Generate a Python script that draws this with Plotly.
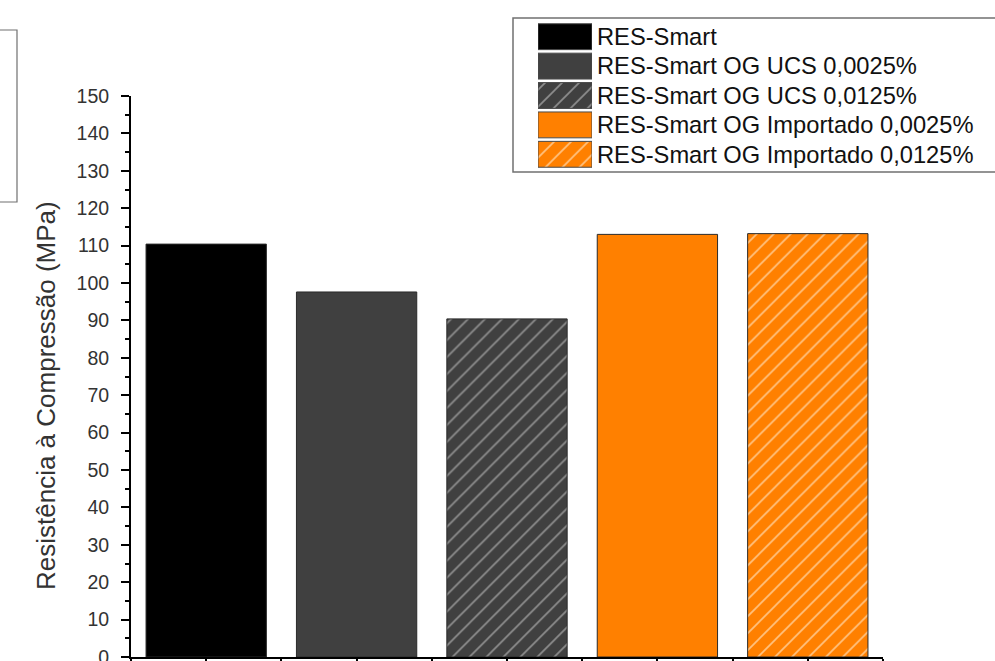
import plotly.graph_objects as go

# Compressive strength per mix
labels = [
    "RES-Smart",
    "RES-Smart OG UCS 0,0025%",
    "RES-Smart OG UCS 0,0125%",
    "RES-Smart OG Importado 0,0025%",
    "RES-Smart OG Importado 0,0125%",
]
strength_mpa = [110.4, 97.6, 90.4, 113.0, 113.2]

fill_colors = ["#000000", "#404040", "#404040", "#FF8000", "#FF8000"]
hatch_shapes = ["", "", "/", "", "/"]
hatch_colors = ["#000000", "#404040", "#8e8e8e", "#FF8000", "#FFC382"]

y_ticks = list(range(0, 151, 10))

W, H = 995, 661


def px_x(p):
    return p / W


def px_y(p):
    return 1 - p / H


positions = list(range(1, len(labels) + 1))

fig = go.Figure()

for i, name in enumerate(labels):
    pattern = dict(shape=hatch_shapes[i], fgcolor=hatch_colors[i],
                   bgcolor=fill_colors[i], size=12, solidity=0.14,
                   fillmode="replace")
    # Main bar
    fig.add_trace(go.Bar(
        x=[positions[i]],
        y=[strength_mpa[i]],
        width=0.8,
        marker=dict(color=fill_colors[i],
                    line=dict(color="#2a2a2a", width=1),
                    pattern=pattern),
        xaxis="x", yaxis="y",
        name=name, showlegend=False,
    ))
    # Key swatch on a small helper axis
    fig.add_trace(go.Bar(
        x=[1],
        y=[name],
        orientation="h",
        width=0.88,
        marker=dict(color=fill_colors[i],
                    line=dict(color="#4a4a4a", width=1),
                    pattern=pattern),
        xaxis="x2", yaxis="y2",
        name=name, showlegend=False, hoverinfo="y",
    ))

axis_font = dict(family="Liberation Sans, Arial, sans-serif", size=19.5, color="#333333")

fig.update_layout(
    width=W, height=H,
    margin=dict(l=0, r=0, t=0, b=0, autoexpand=False),
    paper_bgcolor="white",
    plot_bgcolor="white",
    font=dict(family="Liberation Sans, Arial, sans-serif", color="#222222"),
    barmode="overlay",
    xaxis=dict(
        domain=[px_x(131), px_x(883)],
        range=[0.5, len(labels) + 0.5],
        tick0=0.5, dtick=0.5,
        ticks="outside", ticklen=9, tickwidth=1.5, tickcolor="black",
        showticklabels=False,
        showline=True, linewidth=2, linecolor="black",
        showgrid=False, zeroline=False,
        automargin=False,
        anchor="y",
    ),
    yaxis=dict(
        domain=[px_y(657), px_y(96)],
        range=[0, 150],
        tickmode="array", tickvals=y_ticks,
        ticks="outside", ticklen=8, tickwidth=1.5, tickcolor="black",
        minor=dict(dtick=5, ticks="outside", ticklen=4, tickwidth=1.5, tickcolor="black"),
        tickfont=axis_font,
        ticklabelstandoff=8,
        ticklabeloverflow="allow",
        showline=True, linewidth=2, linecolor="black",
        showgrid=False, zeroline=False,
        automargin=False,
        anchor="x",
    ),
    xaxis2=dict(
        domain=[px_x(538), px_x(592)],
        range=[0, 1],
        visible=False,
        automargin=False,
        anchor="y2",
    ),
    yaxis2=dict(
        domain=[px_y(169), px_y(22)],
        autorange="reversed",
        type="category",
        categoryorder="array", categoryarray=labels,
        side="right",
        ticks="", showline=False, showgrid=False, zeroline=False,
        tickfont=dict(family="Liberation Sans, Arial, sans-serif", size=23.7, color="#111111"),
        ticklabelstandoff=4,
        automargin=False,
        anchor="x2",
    ),
    shapes=[
        # key frame
        dict(type="rect", xref="paper", yref="paper",
             x0=px_x(513), x1=px_x(1005), y0=px_y(172), y1=px_y(18),
             line=dict(color="#707070", width=1.5), fillcolor="rgba(0,0,0,0)", layer="below"),
        # frame at the left edge
        dict(type="rect", xref="paper", yref="paper",
             x0=px_x(-10), x1=px_x(17), y0=px_y(202), y1=px_y(30),
             line=dict(color="#707070", width=1.2), fillcolor="rgba(0,0,0,0)"),
    ],
    annotations=[
        dict(text="Resistência à Compressão (MPa)", textangle=-90,
             xref="paper", yref="paper", x=px_x(46), y=px_y(396),
             xanchor="center", yanchor="middle", showarrow=False,
             font=dict(family="Liberation Sans, Arial, sans-serif", size=26, color="#333333")),
    ],
)

fig.write_html("out.html")
